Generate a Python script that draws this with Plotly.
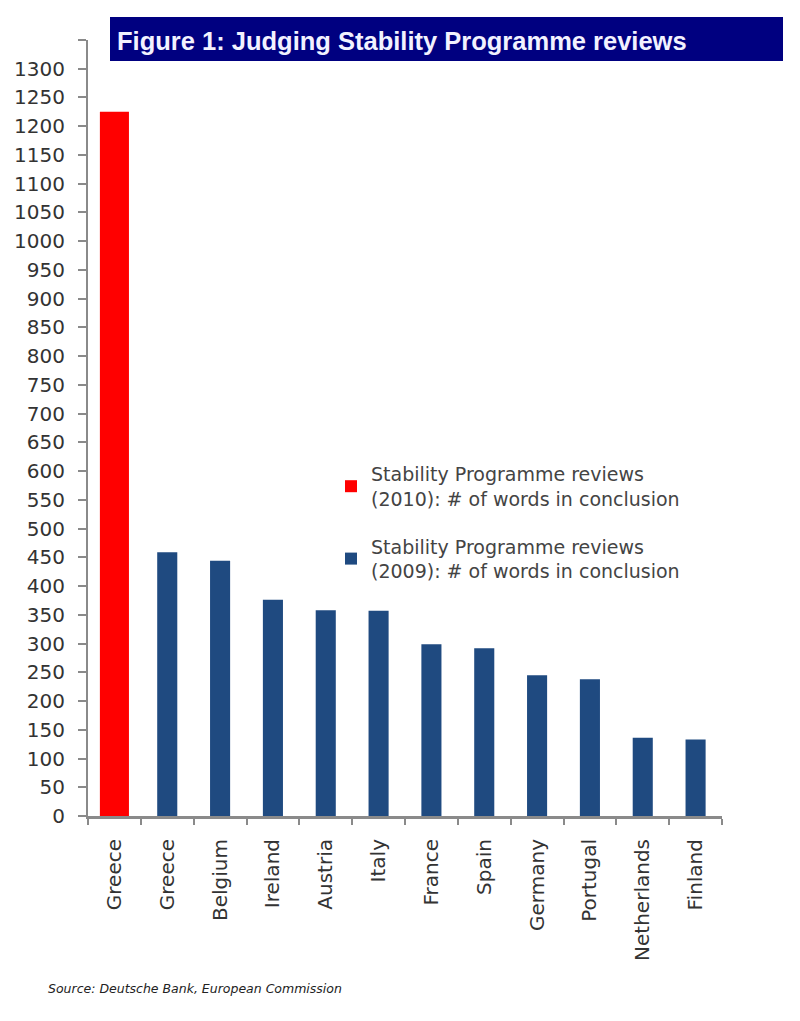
import plotly.graph_objects as go

# ---- data ----
categories = ["Greece (2010)", "Greece", "Belgium", "Ireland", "Austria", "Italy",
              "France", "Spain", "Germany", "Portugal", "Netherlands", "Finland"]
tick_labels = ["Greece", "Greece", "Belgium", "Ireland", "Austria", "Italy",
               "France", "Spain", "Germany", "Portugal", "Netherlands", "Finland"]
cat_2010 = ["Greece (2010)"]
words_2010 = [1225]
cat_2009 = ["Greece", "Belgium", "Ireland", "Austria", "Italy", "France",
            "Spain", "Germany", "Portugal", "Netherlands", "Finland"]
words_2009 = [459, 444, 376, 358, 357, 299, 292, 245, 238, 136, 133]
y_ticks = list(range(0, 1351, 50))
y_tick_text = [str(v) if v <= 1300 else "" for v in y_ticks]

name_2010 = "Stability Programme reviews<br>(2010): # of words in conclusion"
name_2009 = "Stability Programme reviews<br>(2009): # of words in conclusion"
title_text = "Figure 1: Judging Stability Programme reviews"
source_text = "Source: Deutsche Bank, European Commission"

OFF = 8  # page body margin
W, H = 800 - OFF, 1021 - OFF
ML, MT = 80, 32
PW, PH = 634, 776
MR, MB = W - ML - PW, H - MT - PH


def px_x(x):
    return (x - OFF - ML) / PW


def px_y(y):
    return (OFF + MT + PH - y) / PH


fig = go.Figure()
fig.add_trace(go.Bar(x=cat_2010, y=words_2010, name=name_2010, legendgroup="g2010",
                     marker=dict(color="#ff0000", line=dict(width=0)), width=0.55))
fig.add_trace(go.Bar(x=cat_2009, y=words_2009, name=name_2009, legendgroup="g2009",
                     marker=dict(color="#1f4a80", line=dict(width=0)), width=0.38))

fig.update_layout(
    width=W, height=H,
    margin=dict(l=ML, r=MR, t=MT, b=MB, autoexpand=False),
    paper_bgcolor="white", plot_bgcolor="white",
    barmode="overlay",
    font=dict(family="DejaVu Sans", size=20, color="#333333"),
    showlegend=True,
    legend=dict(x=px_x(331), y=px_y(455), xanchor="left", yanchor="top",
                bgcolor="rgba(0,0,0,0)", font=dict(family="DejaVu Sans", size=19, color="#444444"),
                tracegroupgap=20, valign="middle", traceorder="grouped"),
    xaxis=dict(type="category", categoryorder="array", categoryarray=categories,
               tickvals=categories, ticktext=tick_labels, tickangle=-90,
               showline=True, linecolor="#8a8a8a", linewidth=3,
               ticks="outside", tickson="boundaries", ticklen=6, tickwidth=2, tickcolor="#8a8a8a",
               showgrid=False, zeroline=False, ticklabelstandoff=12,
               tickfont=dict(family="DejaVu Sans", size=20, color="#333333"),
               range=[-0.5, 11.5]),
    yaxis=dict(range=[0, 1350], tickvals=y_ticks, ticktext=y_tick_text,
               showline=True, linecolor="#8a8a8a", linewidth=2,
               ticks="outside", ticklen=8, tickwidth=2, tickcolor="#8a8a8a",
               showgrid=False, zeroline=False, ticklabelstandoff=9,
               tickfont=dict(family="DejaVu Sans", size=20, color="#333333")),
)

# title box
fig.add_shape(type="rect", xref="paper", yref="paper",
              x0=px_x(110), x1=px_x(783), y0=px_y(61), y1=px_y(17),
              fillcolor="#000080", line=dict(width=0), layer="above")
fig.add_annotation(text="<b>" + title_text + "</b>", xref="paper", yref="paper",
                   x=px_x(115), y=px_y(41), xanchor="left", yanchor="middle",
                   showarrow=False,
                   font=dict(family="Liberation Sans", size=25.5, color="#f2f2ff"))
fig.add_annotation(text="<i>" + source_text + "</i>", xref="paper", yref="paper",
                   x=px_x(46), y=px_y(988), xanchor="left", yanchor="middle",
                   showarrow=False,
                   font=dict(family="DejaVu Sans", size=12.5, color="#222222"))

fig.write_html("out.html")
